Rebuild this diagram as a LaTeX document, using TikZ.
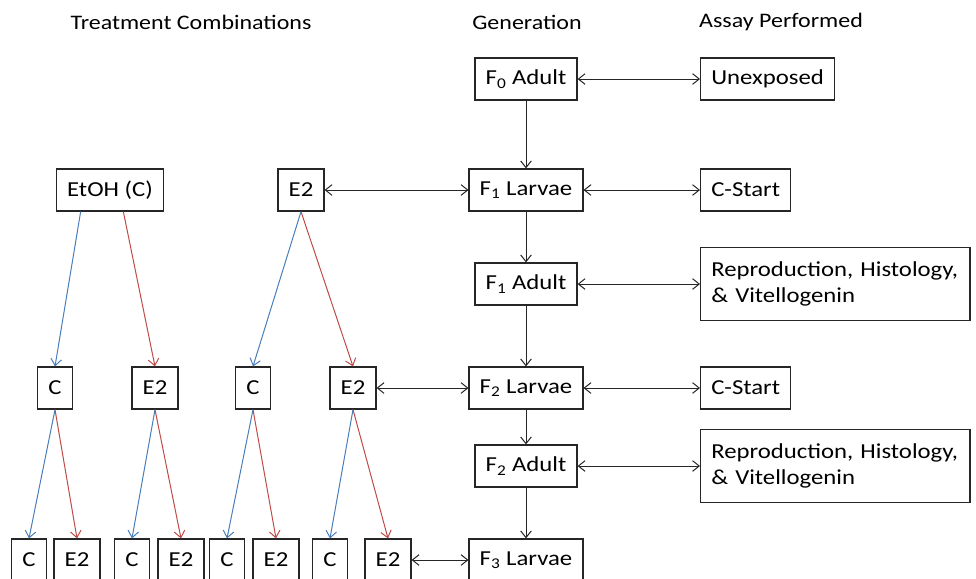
\documentclass[tikz,border=0pt]{standalone}
\usepackage{fontspec}
\setmainfont[FakeStretch=1.16]{Carlito}
\usetikzlibrary{arrows.meta,positioning,calc}
\definecolor{CtrlBlue}{HTML}{4A7EBB}
\definecolor{DoseRed}{HTML}{BE4B48}
\definecolor{BoxLine}{HTML}{262626}
\tikzset{
  box/.style={draw=BoxLine,line width=0.9pt,fill=white,minimum height=31.5pt,
    inner xsep=8pt,font=\fontsize{16}{20}\selectfont},
  assay/.style={box,align=left,minimum height=55pt,text width=186pt},
  head/.style={font=\fontsize{15.5}{20}\selectfont},
  link/.style={{Straight Barb[length=5pt,width=8pt]}-{Straight Barb[length=5pt,width=8pt]},
    line width=0.75pt,draw=BoxLine},
  flow/.style={-{Straight Barb[length=5pt,width=8pt]},line width=0.75pt,draw=BoxLine},
  ctrl/.style={flow,draw=CtrlBlue},
  dose/.style={flow,draw=DoseRed}
}
\begin{document}
\begin{tikzpicture}[x=0.75pt,y=-0.75pt]
  \useasboundingbox (0,0) rectangle (976,579);
  % column headers
  \node[head] (hdtreat) at (191,22) {Treatment Combinations};
  \node[head] (hdgen) at (527,22) {Generation};
  \node[head] (hdassay) at (781,22) {Assay Performed};
  % generations
  \node[box] (f0a) at (526,79) {F\textsubscript{0} Adult};
  \node[box] (f1l) at (526,190) {F\textsubscript{1} Larvae};
  \node[box] (f1a) at (526,284) {F\textsubscript{1} Adult};
  \node[box] (f2l) at (526,388) {F\textsubscript{2} Larvae};
  \node[box] (f2a) at (526,466) {F\textsubscript{2} Adult};
  \node[box] (f3l) at (526,560) {F\textsubscript{3} Larvae};
  % assays
  \node[box,anchor=west] (unexp) at (700,79) {Unexposed};
  \node[box,anchor=west] (cstart1) at (700,190) {C-Start};
  \node[assay,anchor=west] (repro1) at (700,284) {Reproduction, Histology,\\\& Vitellogenin};
  \node[box,anchor=west] (cstart2) at (700,388) {C-Start};
  \node[assay,anchor=west] (repro2) at (700,466) {Reproduction, Histology,\\\& Vitellogenin};
  % treatments
  \node[box] (etoh) at (110,190) {EtOH (C)};
  \node[box] (e2top) at (301,190) {E2};
  \foreach \x/\lab/\nm in {55/C/mc1,155/E2/me1,253/C/mc2,353/E2/me2}
    \node[box] (\nm) at (\x,388) {\lab};
  \foreach \x/\lab/\nm in {29/C/bc1,77/E2/be1,132/C/bc2,181/E2/be2,227/C/bc3,276/E2/be3,330/C/bc4,388/E2/be4}
    \node[box] (\nm) at (\x,560) {\lab};
  % generation flow
  \draw[flow] (f0a) -- (f1l);
  \draw[flow] (f1l) -- (f1a);
  \draw[flow] (f1a) -- (f2l);
  \draw[flow] (f2l) -- (f2a);
  \draw[flow] (f2a) -- (f3l);
  \draw[link] (f0a) -- (unexp);
  \draw[link] (f1l) -- (cstart1);
  \draw[link] (f1a) -- (repro1);
  \draw[link] (f2l) -- (cstart2);
  \draw[link] (f2a) -- (repro2);
  \draw[link] (e2top) -- (f1l);
  \draw[link] (me2) -- (f2l);
  \draw[link] (be4) -- (f3l);
  % treatment splits
  \draw[ctrl] ([xshift=-22pt]etoh.south) -- (mc1.north);
  \draw[dose] ([xshift=10pt]etoh.south) -- (me1.north);
  \draw[ctrl] (e2top.south) -- (mc2.north);
  \draw[dose] (e2top.south) -- (me2.north);
  \foreach \up/\lc/\le in {mc1/bc1/be1,me1/bc2/be2,mc2/bc3/be3,me2/bc4/be4} {
    \draw[ctrl] (\up.south) -- (\lc.north);
    \draw[dose] (\up.south) -- (\le.north);
  }
\end{tikzpicture}
\end{document}
